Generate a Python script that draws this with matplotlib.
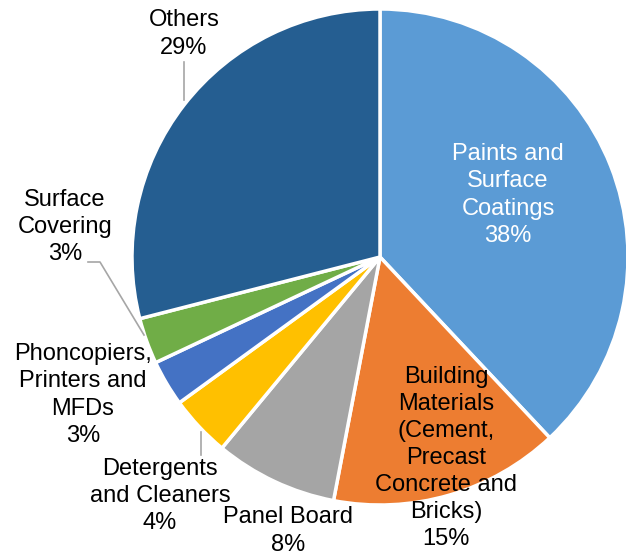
import matplotlib.pyplot as plt

# data
labels = ["Paints and\nSurface\nCoatings", "Building\nMaterials\n(Cement,\nPrecast\nConcrete and\nBricks)",
          "Panel Board", "Detergents\nand Cleaners", "Phoncopiers,\nPrinters and\nMFDs",
          "Surface\nCovering", "Others"]
shares = [38, 15, 8, 4, 3, 3, 29]
colors = ["#5B9BD5", "#ED7D31", "#A5A5A5", "#FFC000", "#4472C4", "#70AD47", "#255E91"]

plt.rcParams['font.family'] = ['Liberation Sans', 'DejaVu Sans']

W, H = 626, 555
fig = plt.figure(figsize=(W / 100, H / 100), dpi=100)
ax = fig.add_axes([0, 0, 1, 1])


def py(y):  # pixel row -> data y
    return H - y


cx, cy, r = 380, 257, 248
ax.pie(shares, colors=colors, startangle=90, counterclock=False,
       center=(cx, py(cy)), radius=r, frame=True,
       wedgeprops=dict(edgecolor='white', linewidth=2.5))
ax.set_xlim(0, W)
ax.set_ylim(0, H)
ax.set_aspect('equal')
ax.axis('off')

# label placement (pixel centres)
pos = [(508, 195), (446, 458), (288, 531), (160, 496), (83, 395), (65, 227), (184, 34)]
txt_col = ['white', 'black', 'black', 'black', 'black', 'black', 'black']
for lab, s, (x, y), c in zip(labels, shares, pos, txt_col):
    ax.text(x, py(y), f"{lab}\n{s}%", ha='center', va='center', fontsize=17,
            color=c, linespacing=1.3)

# leader lines
lc = '#A6A6A6'
ax.plot([184, 184], [py(62), py(100)], color=lc, lw=1.2)
ax.plot([88, 100, 144], [py(262), py(262), py(335)], color=lc, lw=1.2)
ax.plot([201, 201], [py(432), py(455)], color=lc, lw=1.2)

fig.savefig('out.png', dpi=100)
